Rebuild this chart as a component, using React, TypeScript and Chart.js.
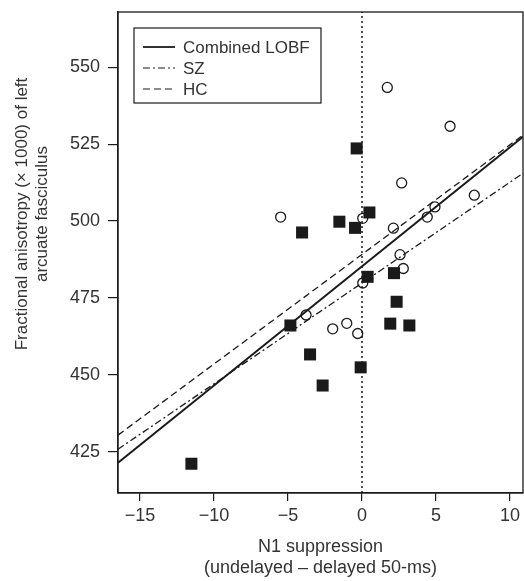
import { useEffect, useRef } from 'react';
import { Chart, registerables } from 'chart.js';

Chart.register(...registerables);

// ---- data ----
const szX = [-0.36, 0.5, -1.53, -0.47, -4.05, 0.38, 2.16, 2.34, 1.91, 3.2, -4.84, -3.51, -0.09, -2.66, -11.53];
const szY = [523.6, 502.8, 499.8, 497.8, 496.3, 481.9, 483.1, 473.8, 466.7, 466.1, 466.1, 456.7, 452.5, 446.6, 421.2];

const hcX = [1.71, 5.95, 2.68, -5.5, 0.05, 7.59, 4.93, 4.41, 2.12, 2.57, 2.79, 0.05, -3.78, -1.98, -1.03, -0.29];
const hcY = [543.4, 530.8, 512.4, 501.3, 500.9, 508.4, 504.6, 501.3, 497.7, 489.1, 484.6, 479.9, 469.5, 465.0, 466.8, 463.5];

const lineX = [-16.49, 10.88];
const combinedY = [421.5, 527.4];
const szLineY = [425.9, 515.5];
const hcLineY = [430.5, 527.9];

const xTicks = [-15, -10, -5, 0, 5, 10];
const yTicks = [425, 450, 475, 500, 525, 550];
const xRange = [-16.49, 10.88];
const yRange = [411.7, 567.9];

const legendLabels = ['Combined LOBF', 'SZ', 'HC'];
const xTitle = ['N1 suppression', '(undelayed \u2013 delayed 50-ms)'];
const yTitle = ['Fractional anisotropy (\u00d7 1000) of left', 'arcuate fasciculus'];

const FONT = "'Liberation Sans', Arial, Helvetica, sans-serif";
const TEXT = '#333';
const INK = '#1a1a1a';

const dashes: number[][] = [[], [7, 3, 2, 3], [7, 4]];

const pairs = (xs: number[], ys: number[]) => xs.map((x, i) => ({ x, y: ys[i] }));

const decorPlugin = {
  id: 'decor',
  afterDraw(chart: any) {
    const { ctx, chartArea } = chart;
    ctx.save();
    // frame
    ctx.strokeStyle = INK;
    ctx.lineWidth = 1.3;
    ctx.setLineDash([]);
    ctx.strokeRect(chartArea.left, chartArea.top, chartArea.right - chartArea.left, chartArea.bottom - chartArea.top);

    // legend
    const bx = 134, by = 28, bw = 187, bh = 75;
    ctx.fillStyle = '#fff';
    ctx.fillRect(bx, by, bw, bh);
    ctx.lineWidth = 1.2;
    ctx.strokeStyle = INK;
    ctx.strokeRect(bx, by, bw, bh);
    const rows = [47, 68, 89];
    ctx.font = `17px ${FONT}`;
    ctx.textBaseline = 'middle';
    ctx.textAlign = 'left';
    legendLabels.forEach((lab, i) => {
      ctx.beginPath();
      ctx.setLineDash(dashes[i]);
      ctx.lineWidth = i === 0 ? 1.8 : 1.2;
      ctx.moveTo(143, rows[i]);
      ctx.lineTo(175, rows[i]);
      ctx.stroke();
      ctx.setLineDash([]);
      ctx.fillStyle = TEXT;
      ctx.fillText(lab, 183, rows[i] + 1);
    });

    // y title
    ctx.translate(32, 214);
    ctx.rotate(-Math.PI / 2);
    ctx.textAlign = 'center';
    ctx.font = `17px ${FONT}`;
    ctx.fillStyle = TEXT;
    ctx.fillText(yTitle[0], 0, -10);
    ctx.fillText(yTitle[1], 0, 10);
    ctx.restore();
  },
};

export default function App() {
  const ref = useRef<HTMLCanvasElement>(null);
  useEffect(() => {
    if (!ref.current) return;
    const chart = new Chart(ref.current, {
      type: 'scatter',
      data: {
        datasets: [
          {
            label: 'SZ points',
            data: pairs(szX, szY),
            pointStyle: 'rect',
            pointRadius: 8.5,
            pointHoverRadius: 8.5,
            backgroundColor: INK,
            borderColor: INK,
            borderWidth: 0,
            order: 0,
          },
          {
            label: 'HC points',
            data: pairs(hcX, hcY),
            pointStyle: 'circle',
            pointRadius: 5,
            pointHoverRadius: 5,
            backgroundColor: 'rgba(0,0,0,0)',
            borderColor: INK,
            borderWidth: 1.3,
            order: 0,
          },
          {
            label: legendLabels[0],
            type: 'line',
            data: pairs(lineX, combinedY),
            borderColor: INK,
            borderWidth: 2,
            pointRadius: 0,
            showLine: true,
            order: 2,
          } as any,
          {
            label: legendLabels[1],
            type: 'line',
            data: pairs(lineX, szLineY),
            borderColor: INK,
            borderWidth: 1.3,
            borderDash: dashes[1],
            pointRadius: 0,
            showLine: true,
            order: 2,
          } as any,
          {
            label: legendLabels[2],
            type: 'line',
            data: pairs(lineX, hcLineY),
            borderColor: INK,
            borderWidth: 1.3,
            borderDash: dashes[2],
            pointRadius: 0,
            showLine: true,
            order: 2,
          } as any,
          {
            label: 'zero',
            type: 'line',
            data: [{ x: 0, y: yRange[0] }, { x: 0, y: yRange[1] }],
            borderColor: INK,
            borderWidth: 1.5,
            borderDash: [2, 3],
            pointRadius: 0,
            showLine: true,
            order: 3,
          } as any,
        ],
      },
      options: {
        animation: false,
        responsive: false,
        devicePixelRatio: 1,
        layout: { autoPadding: false, padding: { left: 0, top: 12, right: 1, bottom: 0 } },
        plugins: { legend: { display: false }, tooltip: { enabled: false } },
        scales: {
          x: {
            type: 'linear',
            min: xRange[0],
            max: xRange[1],
            afterBuildTicks: (s: any) => { s.ticks = xTicks.map((v) => ({ value: v })); },
            afterFit: (s: any) => { s.height = 88; s.paddingLeft = 0; s.paddingRight = 0; },
            grid: { drawOnChartArea: false, drawTicks: true, tickLength: 8, color: INK, lineWidth: 1.2 },
            border: { display: true, color: INK, width: 1.3 },
            ticks: {
              padding: 4,
              color: TEXT,
              font: { family: FONT, size: 18 },
              callback: (v: any) => String(v).replace('-', '\u2212'),
            },
            title: {
              display: true,
              text: xTitle,
              color: TEXT,
              font: { family: FONT, size: 18, lineHeight: 1.17 },
              padding: { top: 0, bottom: 2 },
            },
          },
          y: {
            type: 'linear',
            min: yRange[0],
            max: yRange[1],
            afterBuildTicks: (s: any) => { s.ticks = yTicks.map((v) => ({ value: v })); },
            afterFit: (s: any) => { s.width = 118; s.paddingTop = 0; s.paddingBottom = 0; },
            grid: { drawOnChartArea: false, drawTicks: true, tickLength: 10, color: INK, lineWidth: 1.2 },
            border: { display: true, color: INK, width: 1.3 },
            ticks: {
              padding: 8,
              color: TEXT,
              font: { family: FONT, size: 18 },
            },
          },
        },
      },
      plugins: [decorPlugin],
    });
    return () => chart.destroy();
  }, []);
  return (
    <div style={{ position: 'absolute', left: 0, top: 0, width: 524, height: 581, background: '#fff' }}>
      <canvas ref={ref} width={524} height={581} />
    </div>
  );
}
